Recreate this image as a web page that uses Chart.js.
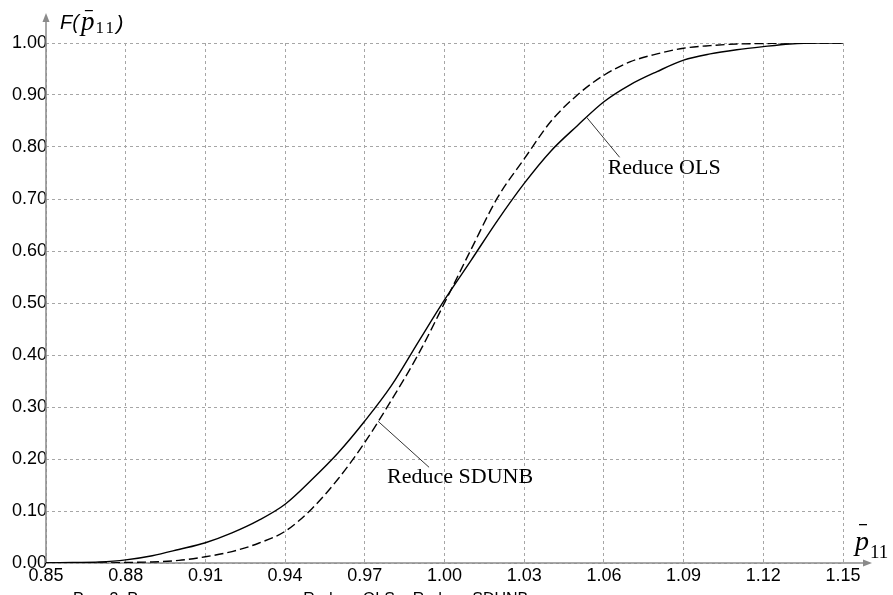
<!DOCTYPE html>
<html>
<head>
<meta charset="utf-8">
<script src="https://cdn.jsdelivr.net/npm/chart.js@4/dist/chart.umd.min.js"></script>
<style>
  html, body { margin: 0; padding: 0; background: #fff; }
  #wrap { width: 893px; height: 595px; position: relative; }
</style>
</head>
<body>
<div id="wrap"><canvas id="c" width="893" height="595"></canvas></div>
<script>
// Argument values of the distribution functions
const xValues = [0.85, 0.86, 0.87, 0.88, 0.89, 0.90, 0.91, 0.92, 0.93, 0.94, 0.95,
                 0.96, 0.97, 0.98, 0.99, 1.00, 1.01, 1.02, 1.03, 1.04, 1.05,
                 1.06, 1.07, 1.08, 1.09, 1.10, 1.11, 1.12, 1.13, 1.14, 1.15];

// F(p11) for the Reduce OLS estimate (solid line)
const olsValues = [0.000, 0.001, 0.002, 0.006, 0.014, 0.026, 0.039, 0.058, 0.082, 0.113, 0.160,
                   0.212, 0.273, 0.341, 0.424, 0.506, 0.582, 0.659, 0.730, 0.792, 0.841,
                   0.887, 0.920, 0.945, 0.967, 0.979, 0.987, 0.993, 0.998, 1.000, 1.000];

// F(p11) for the Reduce SDUNB estimate (dashed line)
const sdunbValues = [0.000, 0.000, 0.000, 0.001, 0.002, 0.005, 0.012, 0.022, 0.038, 0.061, 0.104,
                     0.162, 0.232, 0.313, 0.400, 0.500, 0.603, 0.703, 0.777, 0.849, 0.900,
                     0.938, 0.964, 0.979, 0.990, 0.995, 0.998, 0.999, 1.000, 1.000, 1.000];

// Axis tick values
const xTicks = [0.85, 0.88, 0.91, 0.94, 0.97, 1.00, 1.03, 1.06, 1.09, 1.12, 1.15];
const yTicks = [0.00, 0.10, 0.20, 0.30, 0.40, 0.50, 0.60, 0.70, 0.80, 0.90, 1.00];

// Curve labels: name, x where the leader touches the curve, leader offset, text offset
const curveLabels = [
  { text: 'Reduce OLS',   series: 0, at: 1.0535, dx: 33, dy: 40, tx: -12, ty: 17 },
  { text: 'Reduce SDUNB', series: 1, at: 0.975,  dx: 51, dy: 46, tx: -42, ty: 16 }
];

const caption = 'Рис. 3. Распределения оценок Reduce OLS и Reduce SDUNB';

const toPoints = vals => xValues.map((x, i) => ({ x: x, y: vals[i] }));

function valueAt(vals, x) {
  for (let i = 0; i < xValues.length - 1; i++) {
    if (x >= xValues[i] && x <= xValues[i + 1]) {
      const t = (x - xValues[i]) / (xValues[i + 1] - xValues[i]);
      return vals[i] + t * (vals[i + 1] - vals[i]);
    }
  }
  return vals[vals.length - 1];
}

const AXIS_COLOR = '#8a8a8a';

// Axis lines with arrowheads, drawn beneath the curves
const axesPlugin = {
  id: 'arrowAxes',
  beforeDatasetsDraw(chart) {
    const { ctx, chartArea: a } = chart;
    ctx.save();
    ctx.strokeStyle = AXIS_COLOR;
    ctx.fillStyle = AXIS_COLOR;
    ctx.lineWidth = 1.5;
    // horizontal axis
    const xEnd = a.right + 29;
    ctx.beginPath();
    ctx.moveTo(a.left, a.bottom);
    ctx.lineTo(xEnd - 6, a.bottom);
    ctx.stroke();
    ctx.beginPath();
    ctx.moveTo(xEnd, a.bottom);
    ctx.lineTo(xEnd - 9, a.bottom - 3.5);
    ctx.lineTo(xEnd - 9, a.bottom + 3.5);
    ctx.closePath();
    ctx.fill();
    // vertical axis
    const yEnd = a.top - 30;
    ctx.beginPath();
    ctx.moveTo(a.left, a.bottom);
    ctx.lineTo(a.left, yEnd + 6);
    ctx.stroke();
    ctx.beginPath();
    ctx.moveTo(a.left, yEnd);
    ctx.lineTo(a.left - 3.5, yEnd + 9);
    ctx.lineTo(a.left + 3.5, yEnd + 9);
    ctx.closePath();
    ctx.fill();
    ctx.restore();
  }
};

// Axis titles, curve labels with leaders, and the figure caption
const textPlugin = {
  id: 'texts',
  afterDraw(chart) {
    const { ctx, chartArea: a } = chart;
    const xs = chart.scales.x, ys = chart.scales.y;
    const series = [olsValues, sdunbValues];
    ctx.save();
    ctx.fillStyle = '#000';
    ctx.textBaseline = 'alphabetic';

    // vertical axis title: F(p̄11)
    let bx = a.left + 14, by = 29;
    ctx.font = 'italic 20px "Liberation Sans"';
    ctx.fillText('F(', bx, by);
    bx += ctx.measureText('F(').width + 2;
    ctx.font = 'italic 27px "Liberation Serif"';
    ctx.fillText('p', bx, by + 1);
    ctx.fillRect(bx + 4, 10, 8, 1.2);
    bx += ctx.measureText('p').width + 1;
    ctx.font = '17px "Liberation Serif"';
    ctx.fillText('1', bx, by + 4);
    ctx.fillText('1', bx + 10, by + 4);
    bx += 21;
    ctx.font = 'italic 21px "Liberation Sans"';
    ctx.fillText(')', bx, by + 1);

    // horizontal axis title: p̄11
    let rx = a.right + 12, ry = 550;
    ctx.font = 'italic 28px "Liberation Serif"';
    ctx.fillText('p', rx, ry);
    ctx.fillRect(rx + 4, 524, 8, 1.3);
    rx += ctx.measureText('p').width + 1;
    ctx.font = '19px "Liberation Serif"';
    ctx.fillText('11', rx, ry + 8);

    // curve labels
    ctx.font = '22px "Liberation Serif"';
    ctx.strokeStyle = '#333';
    ctx.lineWidth = 1;
    curveLabels.forEach(l => {
      const px = xs.getPixelForValue(l.at);
      const py = ys.getPixelForValue(valueAt(series[l.series], l.at));
      ctx.beginPath();
      ctx.moveTo(px, py);
      ctx.lineTo(px + l.dx, py + l.dy);
      ctx.stroke();
      ctx.fillText(l.text, px + l.dx + l.tx, py + l.dy + l.ty);
    });

    // caption, cut by the lower edge of the page
    ctx.font = '16px "Liberation Sans"';
    ctx.fillText(caption, 73, 604);
    ctx.restore();
  }
};

new Chart(document.getElementById('c'), {
  type: 'line',
  data: {
    datasets: [
      {
        label: 'Reduce OLS',
        data: toPoints(olsValues),
        borderColor: '#000',
        borderWidth: 1.4,
        pointRadius: 0,
        cubicInterpolationMode: 'monotone',
        fill: false
      },
      {
        label: 'Reduce SDUNB',
        data: toPoints(sdunbValues),
        borderColor: '#000',
        borderWidth: 1.4,
        borderDash: [9, 4],
        pointRadius: 0,
        cubicInterpolationMode: 'monotone',
        fill: false
      }
    ]
  },
  options: {
    responsive: false,
    devicePixelRatio: 1,
    animation: false,
    events: [],
    layout: { padding: { top: 43, right: 50, left: 0, bottom: 0 } },
    plugins: { legend: { display: false }, tooltip: { enabled: false } },
    scales: {
      x: {
        type: 'linear',
        min: 0.85,
        max: 1.15,
        afterBuildTicks: s => { s.ticks = xTicks.map(v => ({ value: v })); },
        afterFit: s => { s.height = 32; },
        grid: { color: '#a6a6a6', lineWidth: 1, drawTicks: false },
        border: { display: false, dash: [3, 3] },
        ticks: {
          color: '#000',
          font: { family: 'Liberation Sans', size: 18 },
          padding: 2,
          maxRotation: 0,
          autoSkip: false,
          callback: v => Number(v).toFixed(2)
        }
      },
      y: {
        type: 'linear',
        min: 0,
        max: 1,
        afterBuildTicks: s => { s.ticks = yTicks.map(v => ({ value: v })); },
        afterFit: s => { s.width = 46; },
        grid: { color: '#a6a6a6', lineWidth: 1, drawTicks: false },
        border: { display: false, dash: [3, 3] },
        ticks: {
          color: '#000',
          font: { family: 'Liberation Sans', size: 18 },
          padding: -1,
          autoSkip: false,
          callback: v => Number(v).toFixed(2)
        }
      }
    }
  },
  plugins: [axesPlugin, textPlugin]
});
</script>
</body>
</html>
